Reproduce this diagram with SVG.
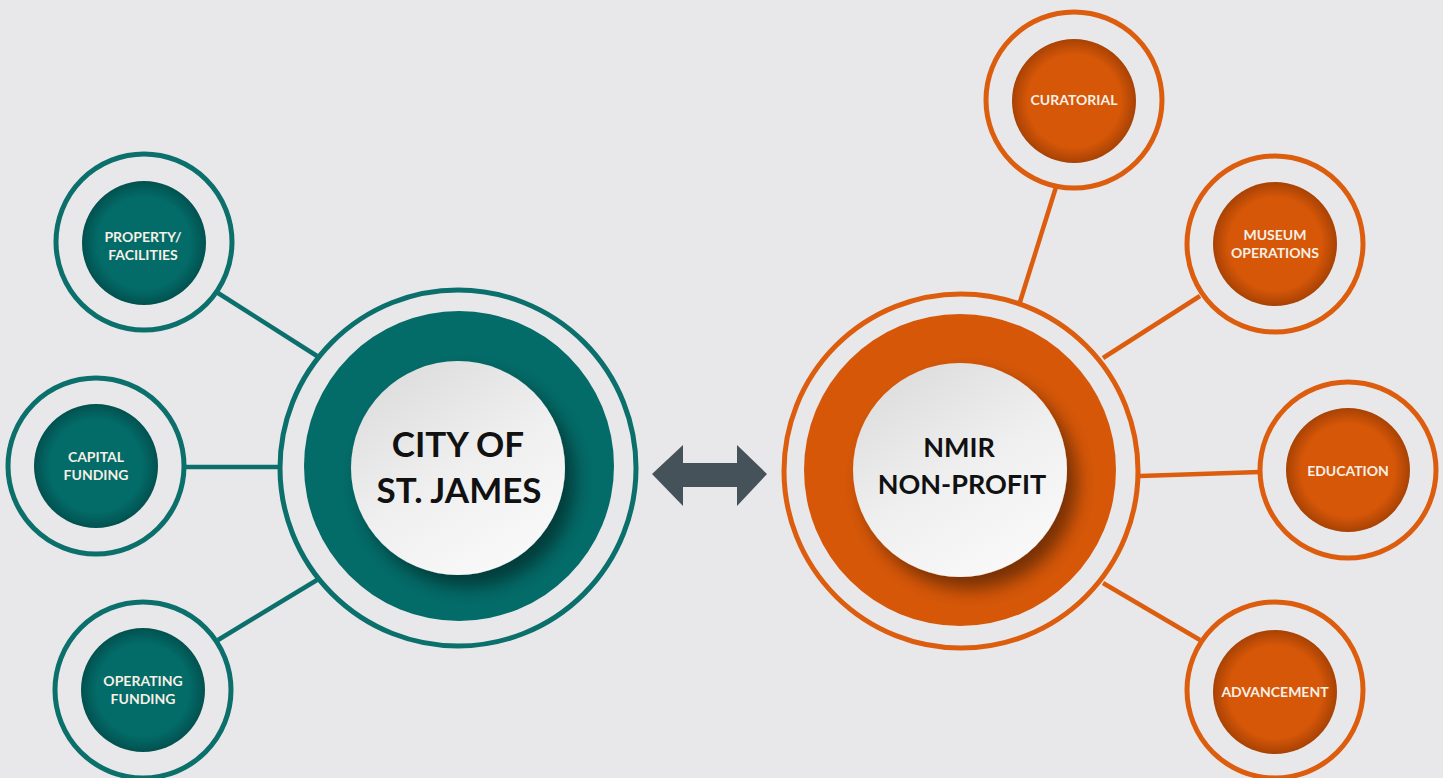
<svg xmlns="http://www.w3.org/2000/svg" width="1443" height="778" viewBox="0 0 1443 778">
<style>
.bg{fill:#e8e8ea}
.ringT{fill:none;stroke:#0b6f6c;stroke-width:5}
.ringO{fill:none;stroke:#dc5d0e;stroke-width:5}
.lineT{stroke:#0b6f6c;stroke-width:4.5;fill:none}
.lineO{stroke:#dc5d0e;stroke-width:4.5;fill:none}
.small{font-family:"Lato","Open Sans","Liberation Sans",sans-serif;font-weight:700;font-size:14px;fill:#f6f0e6;text-anchor:middle}
.big{font-family:"Lato","Open Sans","Liberation Sans",sans-serif;font-weight:700;font-size:35px;fill:#111;text-anchor:middle}
.mid{font-family:"Lato","Open Sans","Liberation Sans",sans-serif;font-weight:700;font-size:27px;fill:#111;text-anchor:middle}
</style>
<defs>
<radialGradient id="gT" cx="50%" cy="50%" r="50%">
<stop offset="0.75" stop-color="#036b68"/>
<stop offset="1" stop-color="#01514f"/>
</radialGradient>
<radialGradient id="gO" cx="50%" cy="50%" r="50%">
<stop offset="0.75" stop-color="#d65708"/>
<stop offset="1" stop-color="#a84204"/>
</radialGradient>
<linearGradient id="gW" x1="0.2" y1="0" x2="0.8" y2="1">
<stop offset="0" stop-color="#dcdcdc"/>
<stop offset="0.5" stop-color="#efefef"/>
<stop offset="1" stop-color="#fafafa"/>
</linearGradient>
<filter id="sh" x="-30%" y="-30%" width="170%" height="170%">
<feDropShadow dx="10" dy="12" stdDeviation="9" flood-color="#000" flood-opacity="0.45"/>
</filter>
</defs>
<rect class="bg" x="0" y="0" width="1443" height="778"/>
<g id="connectors">
<line class="lineT" x1="218" y1="293" x2="317" y2="356"/>
<line class="lineT" x1="184" y1="467" x2="281" y2="467"/>
<line class="lineT" x1="218" y1="640" x2="317" y2="580"/>
<line class="lineO" x1="1056" y1="187" x2="1020" y2="302"/>
<line class="lineO" x1="1200" y1="296" x2="1103" y2="358"/>
<line class="lineO" x1="1140" y1="476" x2="1260" y2="472"/>
<line class="lineO" x1="1103" y1="583" x2="1200" y2="640"/>
<path d="M652,474 L683,445 L683,463 L737,463 L737,445 L767,474 L737,506 L737,487 L683,487 L683,506 Z" fill="#46525a"/>
</g>
<g id="city">
<circle class="ringT" cx="458" cy="468" r="178"/>
<circle cx="459" cy="466" r="155" fill="#036b68"/>
<circle cx="458" cy="468" r="107" fill="url(#gW)" filter="url(#sh)"/>
<text class="big" x="458" y="457">CITY OF</text>
<text class="big" x="459" y="503">ST. JAMES</text>
</g>
<g id="nmir">
<circle class="ringO" cx="961" cy="471" r="177"/>
<circle cx="960" cy="470" r="156" fill="#d65708"/>
<circle cx="960" cy="470" r="107" fill="url(#gW)" filter="url(#sh)"/>
<text class="mid" x="959" y="457">NMIR</text>
<text class="mid" x="962" y="494">NON-PROFIT</text>
</g>
<g id="property">
<circle class="ringT" cx="144" cy="242" r="88"/>
<circle cx="144" cy="243" r="62" fill="url(#gT)"/>
<text class="small" x="143" y="242">PROPERTY/</text>
<text class="small" x="143" y="260">FACILITIES</text>
</g>
<g id="capital">
<circle class="ringT" cx="96" cy="466" r="88"/>
<circle cx="96" cy="466" r="62" fill="url(#gT)"/>
<text class="small" x="96" y="462">CAPITAL</text>
<text class="small" x="96" y="480">FUNDING</text>
</g>
<g id="operating">
<circle class="ringT" cx="143" cy="690" r="88"/>
<circle cx="143" cy="690" r="62" fill="url(#gT)"/>
<text class="small" x="143" y="686">OPERATING</text>
<text class="small" x="143" y="704">FUNDING</text>
</g>
<g id="curatorial">
<circle class="ringO" cx="1074" cy="100" r="88"/>
<circle cx="1074" cy="101" r="62" fill="url(#gO)"/>
<text class="small" x="1074" y="105">CURATORIAL</text>
</g>
<g id="museum">
<circle class="ringO" cx="1275" cy="244" r="88"/>
<circle cx="1275" cy="244" r="62" fill="url(#gO)"/>
<text class="small" x="1275" y="240">MUSEUM</text>
<text class="small" x="1275" y="258">OPERATIONS</text>
</g>
<g id="education">
<circle class="ringO" cx="1348" cy="470" r="88"/>
<circle cx="1348" cy="470" r="62" fill="url(#gO)"/>
<text class="small" x="1348" y="476">EDUCATION</text>
</g>
<g id="advancement">
<circle class="ringO" cx="1275" cy="690" r="88"/>
<circle cx="1275" cy="692" r="62" fill="url(#gO)"/>
<text class="small" x="1275" y="697">ADVANCEMENT</text>
</g>
</svg>
